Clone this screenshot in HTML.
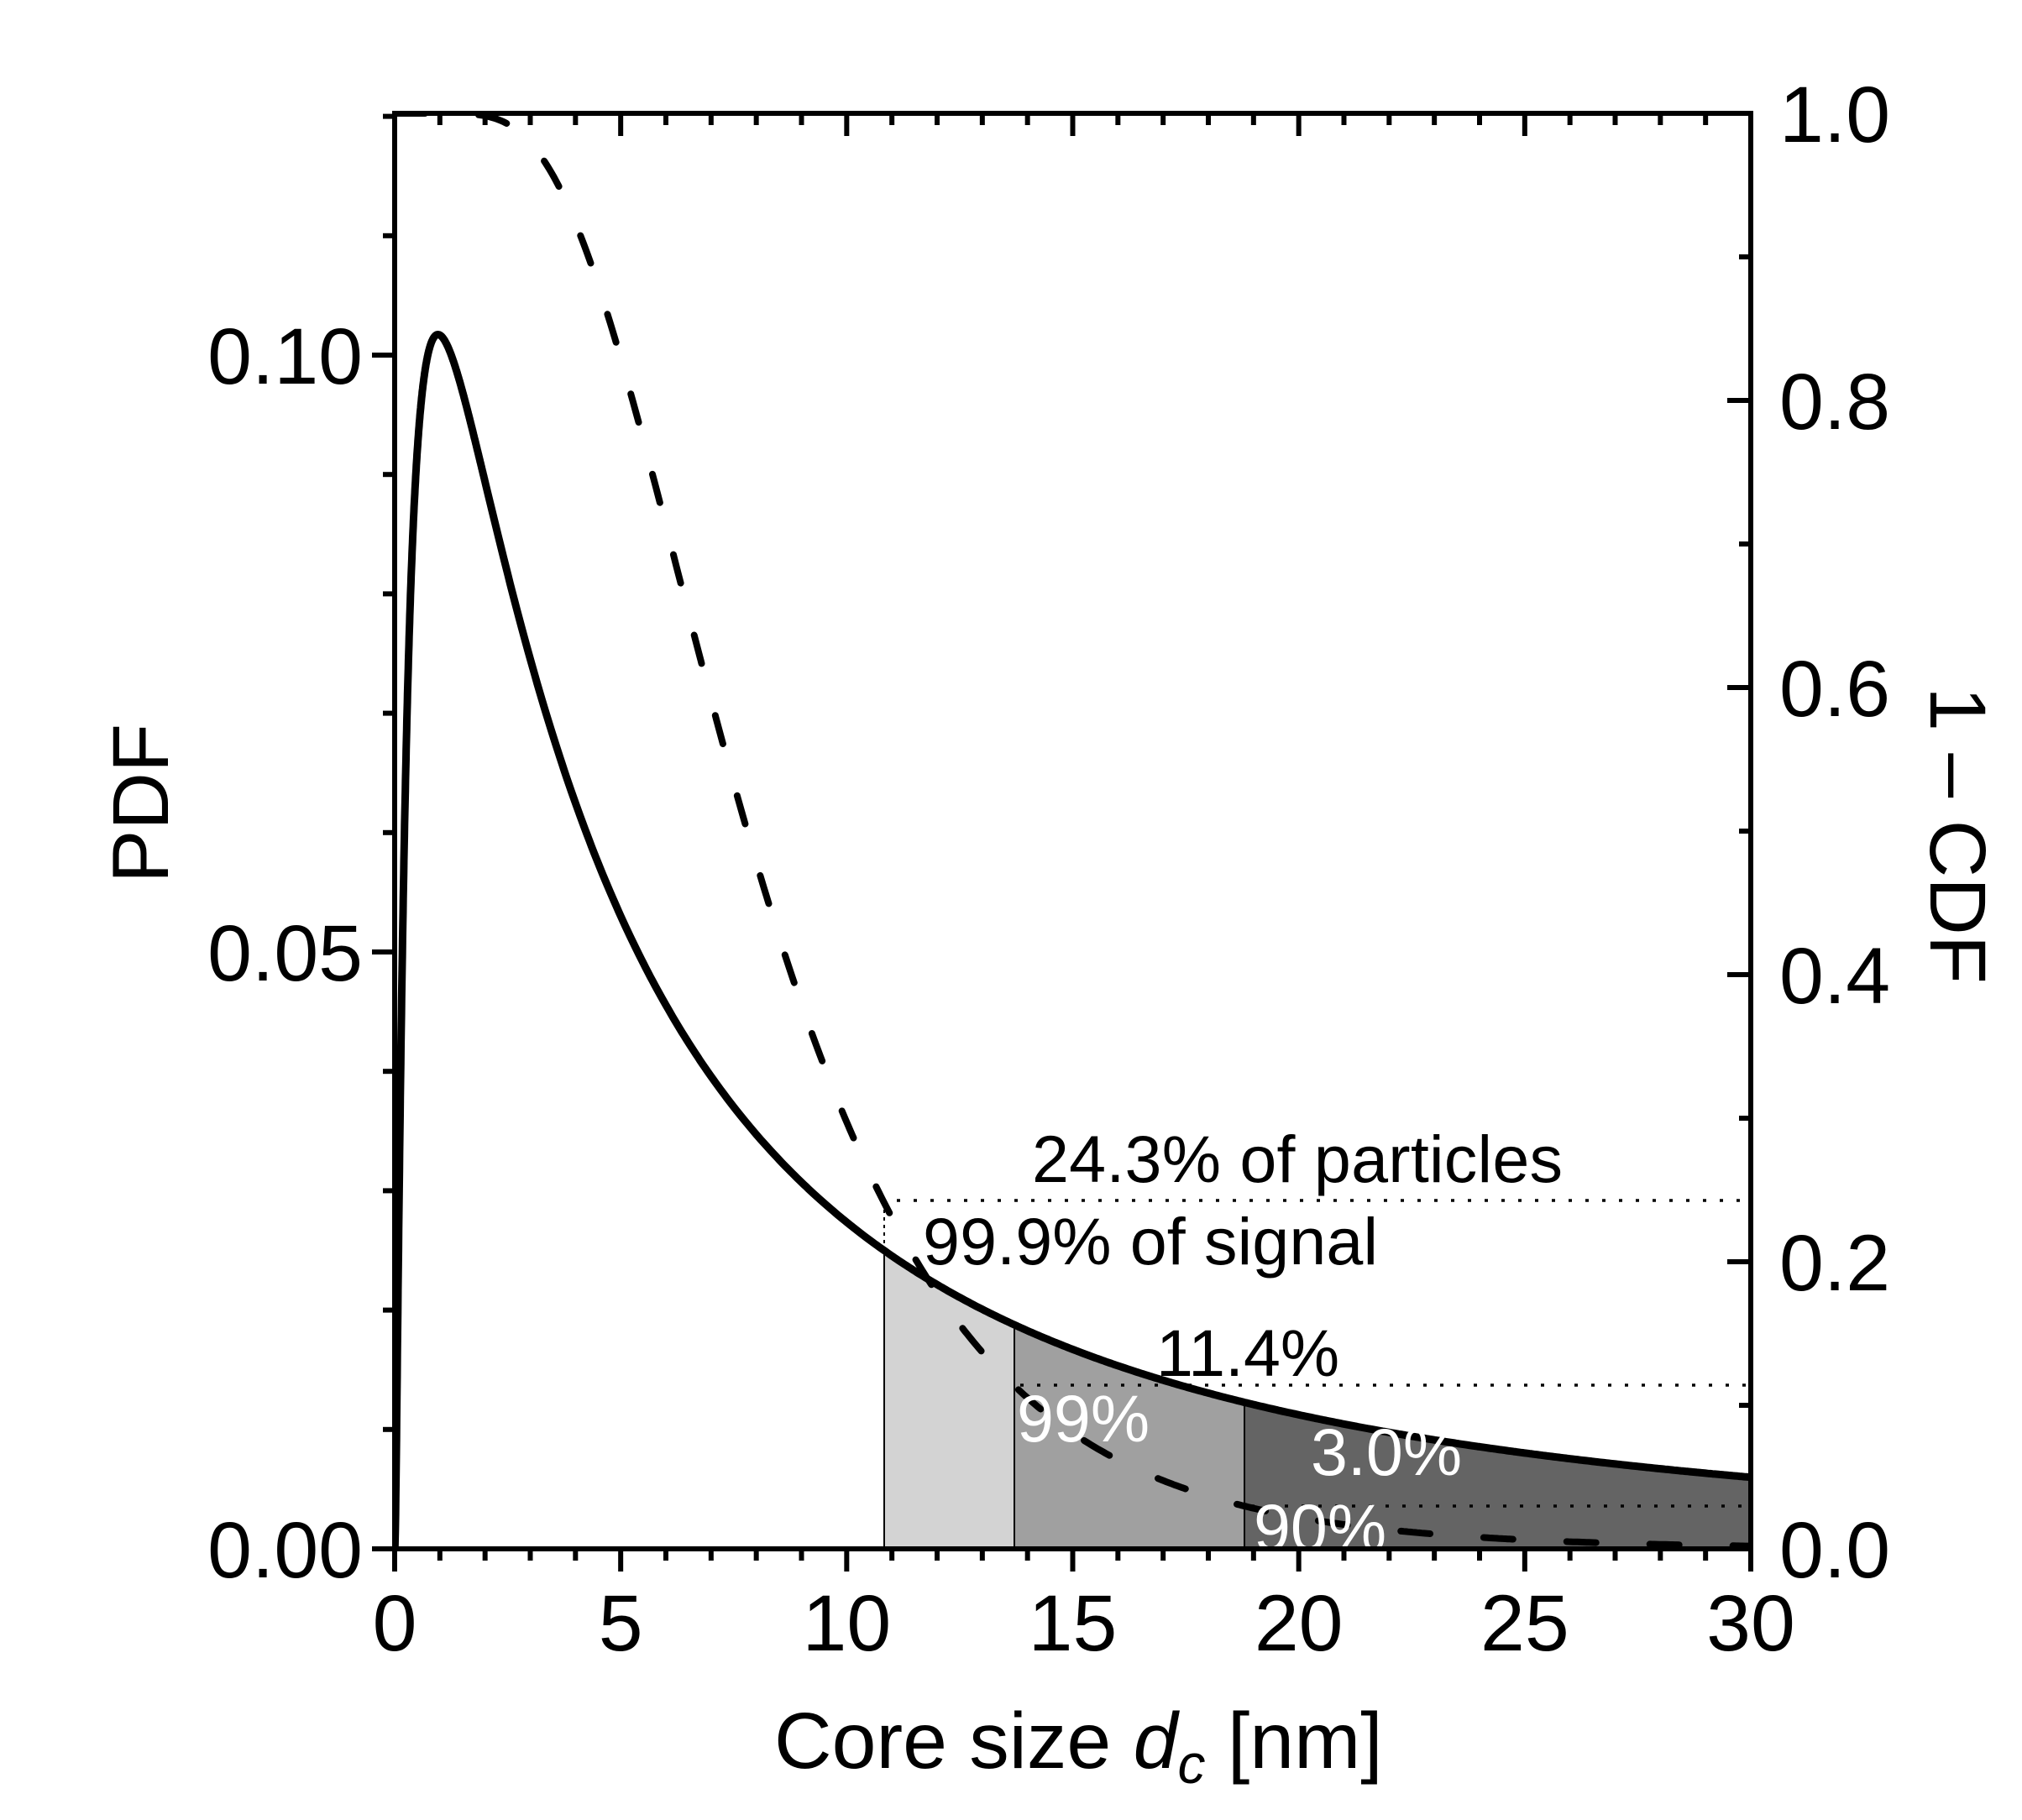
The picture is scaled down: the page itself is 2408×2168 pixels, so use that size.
<!DOCTYPE html>
<html><head><meta charset="utf-8">
<style>
html,body{margin:0;padding:0;background:#fff;}
svg{display:block;}
text{font-family:"Liberation Sans",Arial,sans-serif;}
</style></head>
<body>
<svg id="s" width="2408" height="2168" viewBox="0 0 2408 2168" xmlns="http://www.w3.org/2000/svg">
<defs><clipPath id="pc"><rect x="470" y="135" width="1615" height="1710"/></clipPath></defs>
<g id="fills"></g>
<g id="seps"></g>
<g fill="none" stroke="#000" stroke-width="3.5" stroke-dasharray="4 16">
<line x1="1068" y1="1430" x2="2085" y2="1430"/>
<line x1="1215" y1="1650" x2="2085" y2="1650"/>
<line x1="1490" y1="1794" x2="2085" y2="1794"/>
</g>
<line x1="1053" y1="1432" x2="1053" y2="1845" stroke="#000" stroke-width="2" stroke-dasharray="4 5"/>
<path id="pdf" fill="none" stroke="#000" stroke-width="9" stroke-linejoin="round" clip-path="url(#pc)"/>
<path id="cdf" fill="none" stroke="#000" stroke-width="8" stroke-linecap="round" stroke-dasharray="35 64" clip-path="url(#pc)"/>
<g font-size="79" fill="#000">
<text x="1229" y="1408" textLength="632">24.3% of particles</text>
<text x="1099" y="1506" textLength="542">99.9% of signal</text>
<text x="1377" y="1639">11.4%</text>
</g>
<g font-size="79" fill="#fff">
<text x="1211" y="1717">99%</text>
<text x="1561" y="1757">3.0%</text>
<text x="1493" y="1847">90%</text>
</g>
<g id="axes" stroke="#000" stroke-width="6" fill="none"></g>
<g id="labels" font-size="95" fill="#000"></g>
<text x="922" y="2106" font-size="95" fill="#000">Core size <tspan font-style="italic">d</tspan><tspan font-style="italic" font-size="66" dy="18">c</tspan><tspan dy="-18"> [nm]</tspan></text>
<text transform="translate(200,957) rotate(-90)" text-anchor="middle" font-size="95" fill="#000">PDF</text>
<text transform="translate(2299,995) rotate(90)" text-anchor="middle" font-size="95" fill="#000">1 – CDF</text>
</svg>
<script>
(function(){
var NS="http://www.w3.org/2000/svg";
function el(t,a,p){var e=document.createElementNS(NS,t);for(var k in a)e.setAttribute(k,a[k]);p.appendChild(e);return e;}
var X0=470,X1=2085,Y0=1845,YT=135,PX=(X1-X0)/30,LS=14220;
function pdf(x){var u=Math.log(x);return Math.exp(-1.281-u-(u-2.052)*(u-2.052)/4.19);}
function px(x){return X0+x*PX;} function py(v){return Y0-v*LS;}
var D=[[X0,Y0]];
for(var x=0.005;x<=30.0001;){D.push([px(x),py(pdf(x))]);x+= x<2?0.005:0.05;}
function pathOf(a){return "M"+a.map(function(p){return p[0].toFixed(1)+","+p[1].toFixed(1);}).join("L");}
document.getElementById("pdf").setAttribute("d",pathOf(D));
function yAt(xp){return py(pdf((xp-X0)/PX));}
var fills=document.getElementById("fills");
function region(a,b,c){var pts=[[a,Y0]];for(var xp=a;xp<b;xp+=3)pts.push([xp,yAt(xp)]);pts.push([b,yAt(b)]);pts.push([b,Y0]);
 el("polygon",{points:pts.map(function(p){return p[0].toFixed(1)+","+p[1].toFixed(1);}).join(" "),fill:c},fills);}
region(1053,1208,"#d3d3d3");region(1208,1482,"#a0a0a0");region(1482,2085,"#646464");
var seps=document.getElementById("seps");
[1053,1208,1482].forEach(function(x){el("line",{x1:x,y1:Y0,x2:x,y2:yAt(x),stroke:"#000","stroke-width":2},seps);});
function erf(x){var s=x<0?-1:1;x=Math.abs(x);var t=1/(1+0.3275911*x);var y=1-(((((1.061405429*t-1.453152027)*t)+1.421413741)*t-0.284496736)*t+0.254829592)*t*Math.exp(-x*x);return s*y;}
var mu=2.054,sg=0.467,c=[];
for(var x=0.02;x<=30.001;x+=0.05){var S=0.5*(1-erf((Math.log(x)-mu)/(sg*Math.SQRT2)));c.push([px(x),Y0-S*(Y0-YT)]);}
document.getElementById("cdf").setAttribute("d",pathOf(c));
var ax=document.getElementById("axes"),lb=document.getElementById("labels");
el("rect",{x:X0,y:YT,width:X1-X0,height:Y0-YT},ax);
for(var n=0;n<=30;n++){var x=X0+n*PX,L=(n%5==0)?27:14;
 el("line",{x1:x,y1:Y0,x2:x,y2:Y0+L},ax);el("line",{x1:x,y1:YT,x2:x,y2:YT+L},ax);
 if(n%5==0){var t=el("text",{x:x,y:1966,"text-anchor":"middle"},lb);t.textContent=n;}}
for(var n=0;n<=12;n++){var y=Y0-n*0.01*LS,L=(n%5==0)?27:14;if(y<YT-2)break;
 el("line",{x1:X0,y1:y,x2:X0-L,y2:y},ax);
 if(n%5==0){var t=el("text",{x:432,y:y+34,"text-anchor":"end"},lb);t.textContent=(n*0.01).toFixed(2);}}
for(var n=0;n<=10;n++){var y=Y0-n*0.1*(Y0-YT),L=(n%2==0)?28:14;
 el("line",{x1:X1,y1:y,x2:X1-L,y2:y},ax);
 if(n%2==0){var t=el("text",{x:2119,y:y+34},lb);t.textContent=(n*0.1).toFixed(1);}}
})();
</script>
</body></html>
